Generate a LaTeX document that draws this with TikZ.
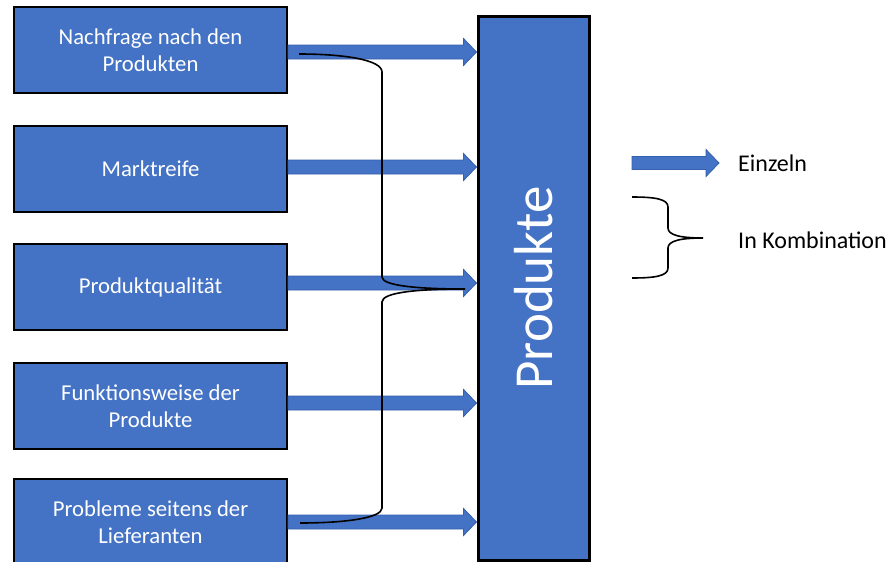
\documentclass[tikz,border=0pt]{standalone}
\usepackage{fontspec}
\setmainfont{Carlito}
\usetikzlibrary{calc}
\definecolor{boxblue}{HTML}{4472C4}
\definecolor{arrowedge}{HTML}{3560AE}
\tikzset{
  box/.style={draw=black, line width=2pt, fill=boxblue, text=white, align=center,
    minimum width=273pt, minimum height=86pt, inner sep=0pt,
    font=\fontsize{22.7}{27}\selectfont},
  bigbox/.style={draw=black, line width=3pt, fill=boxblue, minimum width=111pt, minimum height=544pt},
  barrow/.style={fill=boxblue, draw=arrowedge, line width=0.8pt, line join=miter},
  bracepath/.style={draw=black, line width=1.6pt},
  legtext/.style={anchor=west, inner sep=0pt, font=\fontsize{24}{28}\selectfont}
}
\newcommand{\blockarr}[2]{%
  \draw[barrow] ($(#1)+(0,-7)$) -- ($(#2)+(-13,-7)$) -- ($(#2)+(-13,-13.5)$) -- (#2)
    -- ($(#2)+(-13,13.5)$) -- ($(#2)+(-13,7)$) -- ($(#1)+(0,7)$) -- cycle;}
\begin{document}
\begin{tikzpicture}[x=1pt, y=-1pt]
\clip (0,0) rectangle (889,562);
\fill[white] (0,0) rectangle (889,562);

\node[box] (b1) at (150.5,50) {Nachfrage nach den\\Produkten};
\node[box] (b2) at (150.5,169) {Marktreife};
\node[box] (b3) at (150.5,287) {Produktqualität};
\node[box] (b4) at (150.5,406) {Funktionsweise der\\Produkte};
\node[box] (b5) at (150.5,522) {Probleme seitens der\\Lieferanten};

\node[bigbox] (P) at (533.5,288) {};
\node[rotate=90, text=white, font=\fontsize{55}{60}\selectfont] (Pt) at (533.5,288) {Produkte};

\coordinate (s1) at ($(b1.east)+(0,2)$);
\coordinate (s2) at ($(b2.east)+(0,-2)$);
\coordinate (s3) at ($(b3.east)+(0,-4)$);
\coordinate (s4) at ($(b4.east)+(0,-3)$);
\coordinate (s5) at ($(b5.east)+(0,0)$);
\coordinate (e1) at (P.west |- s1);
\coordinate (e2) at (P.west |- s2);
\coordinate (e3) at (P.west |- s3);
\coordinate (e4) at (P.west |- s4);
\coordinate (e5) at (P.west |- s5);
\blockarr{s1}{e1}
\blockarr{s2}{e2}
\blockarr{s3}{e3}
\blockarr{s4}{e4}
\blockarr{s5}{e5}

% combination brace
\coordinate (bt) at (299,54);
\coordinate (btip) at (465,289);
\coordinate (bb) at (300,523);
\draw[bracepath] (bt) .. controls (345,54) and (382,60) .. (382,72)
  -- (382,277) .. controls (382,286) and (420,289) .. (btip)
  .. controls (420,289) and (382,292) .. (382,302)
  -- (382,508) .. controls (382,518) and (345,523) .. (bb);

% legend
\coordinate (la1) at (632,163);
\coordinate (la2) at (719,163);
\draw[barrow] ($(la1)+(0,-6.5)$) -- ($(la2)+(-13,-6.5)$) -- ($(la2)+(-13,-13.5)$) -- (la2)
    -- ($(la2)+(-13,13.5)$) -- ($(la2)+(-13,6.5)$) -- ($(la1)+(0,6.5)$) -- cycle;
\node[legtext] (l1) at (738,163) {Einzeln};

\coordinate (lbt) at (632,197);
\coordinate (lbtip) at (703,238);
\coordinate (lbb) at (632,278);
\draw[bracepath] (lbt) .. controls (655,197) and (668,199) .. (668,207)
  -- (668,228) .. controls (668,235) and (680,238) .. (lbtip)
  .. controls (680,238) and (668,241) .. (668,248)
  -- (668,268) .. controls (668,276) and (655,278) .. (lbb);
\node[legtext] (l2) at (738,240) {In Kombination};
\end{tikzpicture}
\end{document}
